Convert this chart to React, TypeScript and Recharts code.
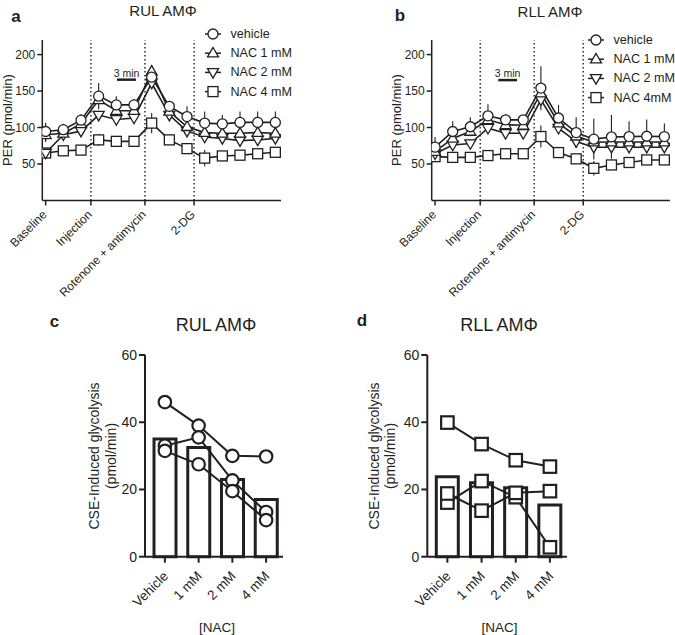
import React from 'react';
import { ComposedChart, Line, Bar, XAxis, YAxis, ReferenceLine, ErrorBar, Legend } from 'recharts';

const INK = '#231f20';
const FONT = '"Liberation Sans", Arial, Helvetica, sans-serif';

// ---------- Panels a & b : PER time course ----------
const measurement = [1, 2, 3, 4, 5, 6, 7, 8, 9, 10, 11, 12, 13, 14];
const eventTicks = [1, 3.56, 6.62, 9.4];
const eventLabels = ['Baseline', 'Injection', 'Rotenone + antimycin', '2-DG'];
const perTicks = [50, 100, 150, 200];
const namesA = ['vehicle', 'NAC 1 mM', 'NAC 2 mM', 'NAC 4 mM'];
const namesB = ['vehicle', 'NAC 1 mM', 'NAC 2 mM', 'NAC 4mM'];

const rulVehicle = [94.5, 97, 110, 143, 131, 131, 169, 129, 115, 106, 105, 107, 107, 107];
const rulNac1 = [90, 92, 105, 138, 123, 123, 177, 122, 101, 93, 92, 92, 93, 92];
const rulNac2 = [65, 90, 95, 117, 111, 113, 161, 117, 95, 87, 85, 82, 83, 85];
const rulNac4 = [65, 68, 69, 83, 81, 81, 106, 83, 71, 58, 61, 62, 64, 66];
const rulVehicleErr = [12, 8, 8, 18, 12, 8, 16, 6, 14, 16, 12, 15, 15, 15];
const rulNac1Err = [10, 5, 5, 6, 5, 5, 8, 5, 5, 5, 5, 5, 5, 5];
const rulNac2Err = [6, 6, 5, 6, 5, 5, 8, 5, 5, 5, 5, 5, 5, 5];
const rulNac4Err = [5, 3, 3, 8, 3, 3, 14, 4, 3, 11, 6, 5, 3, 3];

const rllVehicle = [73, 94.5, 101, 116, 110.5, 110.5, 154, 113, 93, 84, 87, 87.5, 88, 87.5];
const rllNac1 = [67, 85, 94.5, 110.5, 103.7, 103, 147, 106, 88, 80, 80, 80, 80, 80];
const rllNac2 = [64, 76, 78, 99, 92, 92, 138, 99, 80.7, 73, 73, 73, 73, 73];
const rllNac4 = [60, 59, 59, 61.5, 64, 64, 87.6, 65.6, 57, 44, 48.6, 52, 55.5, 55.5];
const rllVehicleErr = [14, 14, 13, 16, 8, 6, 30, 18, 21, 28, 30, 21, 23, 18];
const rllNac1Err = [12, 6, 6, 6, 5, 5, 10, 6, 5, 5, 5, 5, 5, 5];
const rllNac2Err = [6, 6, 6, 6, 5, 5, 8, 5, 5, 5, 5, 5, 5, 5];
const rllNac4Err = [6, 3, 3, 3, 3, 3, 15, 4, 3, 10, 6, 4, 3, 3];

// ---------- Panels c & d : CSE-induced glycolysis ----------
const doses = ['Vehicle', '1 mM', '2 mM', '4 mM'];
const glyTicks = [0, 20, 40, 60];
const rulMean = [35, 32.5, 23, 17];
const rulDonor1 = [46, 39, 30, 29.8];
const rulDonor2 = [33, 35.5, 22.7, 13.3];
const rulDonor3 = [31.5, 27.5, 19.5, 10.9];
const rllMean = [23.8, 22, 20.5, 15.4];
const rllDonor1 = [39.9, 33.5, 28.7, 26.8];
const rllDonor2 = [16.1, 22.5, 17.7, 2.8];
const rllDonor3 = [18.8, 13.7, 19, 19.5];

const KEYS = ['veh', 'n1', 'n2', 'n4'];
const SHAPES = ['circle', 'up', 'down', 'square'];

function buildTimeRows(vals: number[][], errs: number[][]) {
  return measurement.map((t, i) => {
    const row: any = { t };
    KEYS.forEach((k, j) => {
      row[k] = vals[j][i];
      row[k + 'Err'] = errs[j][i];
    });
    return row;
  });
}

function buildDoseRows(mean: number[], d1: number[], d2: number[], d3: number[]) {
  return doses.map((dose, i) => ({ dose, mean: mean[i], d1: d1[i], d2: d2[i], d3: d3[i] }));
}

const rulRows = buildTimeRows([rulVehicle, rulNac1, rulNac2, rulNac4], [rulVehicleErr, rulNac1Err, rulNac2Err, rulNac4Err]);
const rllRows = buildTimeRows([rllVehicle, rllNac1, rllNac2, rllNac4], [rllVehicleErr, rllNac1Err, rllNac2Err, rllNac4Err]);
const rulDoseRows = buildDoseRows(rulMean, rulDonor1, rulDonor2, rulDonor3);
const rllDoseRows = buildDoseRows(rllMean, rllDonor1, rllDonor2, rllDonor3);

function Marker({ shape, cx, cy, size, sw }: any) {
  if (cx == null || cy == null || isNaN(cx) || isNaN(cy)) return null;
  const h = size / 2;
  if (shape === 'circle') return <circle cx={cx} cy={cy} r={h} fill="#fff" stroke={INK} strokeWidth={sw} />;
  if (shape === 'square')
    return <rect x={cx - h} y={cy - h} width={size} height={size} fill="#fff" stroke={INK} strokeWidth={sw} />;
  if (shape === 'up')
    return (
      <polygon
        points={`${cx},${cy - h * 1.15} ${cx - h * 1.1},${cy + h * 0.75} ${cx + h * 1.1},${cy + h * 0.75}`}
        fill="#fff"
        stroke={INK}
        strokeWidth={sw}
      />
    );
  return (
    <polygon
      points={`${cx},${cy + h * 1.15} ${cx - h * 1.1},${cy - h * 0.75} ${cx + h * 1.1},${cy - h * 0.75}`}
      fill="#fff"
      stroke={INK}
      strokeWidth={sw}
    />
  );
}

function RotTick(props: any) {
  const { x, y, payload, fontSize, dx, dy, labels } = props;
  const text = labels ? labels[payload.index] : payload.value;
  return (
    <g transform={`translate(${x + dx},${y + dy})`}>
      <text
        x={0}
        y={0}
        textAnchor="end"
        transform="rotate(-45)"
        fontSize={fontSize}
        fill={INK}
        fontFamily={FONT}
        dominantBaseline="central"
      >
        {text}
      </text>
    </g>
  );
}

function LegendBox({ names }: { names: string[] }) {
  return (
    <svg width={140} height={80} style={{ overflow: 'visible', display: 'block' }}>
      {names.map((n, j) => (
        <g key={n} transform={`translate(0, ${9 + j * 19.2})`}>
          <line x1={2} x2={18} y1={0} y2={0} stroke={INK} strokeWidth={1.5} />
          <Marker shape={SHAPES[j]} cx={10} cy={0} size={10} sw={1.3} />
          <text x={27.5} y={0} dominantBaseline="central" fontSize={12.6} fill={INK} fontFamily={FONT}>
            {n}
          </text>
        </g>
      ))}
    </svg>
  );
}

function TimeCourse({ rows, names, width, ml, mr, legendLeft, legendTop, scale }: any) {
  return (
    <ComposedChart width={width} height={300} data={rows} margin={{ top: 40, right: mr, bottom: 39.6, left: ml }}>
      <XAxis
        dataKey="t"
        type="number"
        domain={[0.81, 14.32]}
        ticks={eventTicks}
        interval={0}
        height={60}
        tickSize={5}
        axisLine={{ stroke: INK, strokeWidth: 1.5 }}
        tickLine={{ stroke: INK, strokeWidth: 1.5 }}
        tick={(p: any) => <RotTick {...p} labels={eventLabels} fontSize={12} dx={-1} dy={5} />}
        allowDataOverflow
      />
      <YAxis
        type="number"
        domain={[0, 220]}
        ticks={perTicks}
        width={30}
        tickSize={5}
        axisLine={{ stroke: INK, strokeWidth: 1.5 }}
        tickLine={{ stroke: INK, strokeWidth: 1.5 }}
        tick={{ fill: INK, fontSize: 12, fontFamily: FONT }}
        allowDataOverflow
      />
      {eventTicks.slice(1).map((x) => (
        <ReferenceLine key={x} x={x} stroke={INK} strokeDasharray="1.3 2.7" strokeWidth={1.4} />
      ))}
      <ReferenceLine
        segment={[
          { x: scale[0], y: scale[2] },
          { x: scale[1], y: scale[2] },
        ]}
        stroke={INK}
        strokeWidth={2.5}
        label={{ value: '3 min', position: 'top', fontSize: 10.5, fill: INK, fontFamily: FONT, offset: 3 }}
      />
      {[3, 2, 1, 0].map((j) => (
        <Line
          key={KEYS[j]}
          dataKey={KEYS[j]}
          type="linear"
          stroke={INK}
          strokeWidth={1.6}
          isAnimationActive={false}
          dot={(p: any) => (
            <Marker key={`${KEYS[j]}-${p.index}`} shape={SHAPES[j]} cx={p.cx} cy={p.cy} size={10} sw={1.3} />
          )}
          activeDot={false}
        >
          <ErrorBar dataKey={KEYS[j] + 'Err'} width={0} stroke={INK} strokeWidth={1.1} direction="y" />
        </Line>
      ))}
      <Legend
        layout="vertical"
        align="center"
        verticalAlign="middle"
        wrapperStyle={{ left: legendLeft, top: legendTop, width: 140, height: 80 }}
        content={() => <LegendBox names={names} />}
      />
    </ComposedChart>
  );
}

function DosePanel({ rows, shape, width, ml, mr }: any) {
  return (
    <ComposedChart width={width} height={335} data={rows} margin={{ top: 55, right: mr, bottom: 18.3, left: ml }}>
      <XAxis
        dataKey="dose"
        type="category"
        padding={{ left: 3, right: 0 }}
        height={60}
        tickSize={6}
        interval={0}
        axisLine={{ stroke: INK, strokeWidth: 2 }}
        tickLine={{ stroke: INK, strokeWidth: 2 }}
        tick={(p: any) => <RotTick {...p} fontSize={13.5} dx={1} dy={9} />}
      />
      <YAxis
        type="number"
        domain={[0, 60]}
        ticks={glyTicks}
        width={40}
        tickSize={6}
        axisLine={{ stroke: INK, strokeWidth: 2 }}
        tickLine={{ stroke: INK, strokeWidth: 2 }}
        tick={{ fill: INK, fontSize: 14, fontFamily: FONT }}
      />
      <Bar dataKey="mean" barSize={22} fill="#fff" stroke={INK} strokeWidth={3} isAnimationActive={false} />
      {['d1', 'd2', 'd3'].map((k) => (
        <Line
          key={k}
          dataKey={k}
          type="linear"
          stroke={INK}
          strokeWidth={2}
          isAnimationActive={false}
          activeDot={false}
          dot={(p: any) => <Marker key={`${k}-${p.index}`} shape={shape} cx={p.cx} cy={p.cy} size={12.5} sw={2.2} />}
        />
      ))}
    </ComposedChart>
  );
}

const abs = (left: number, top: number, extra: any = {}) => ({
  position: 'absolute' as const,
  left,
  top,
  transform: 'translate(-50%, -50%)',
  whiteSpace: 'nowrap' as const,
  color: INK,
  lineHeight: 1,
  fontFamily: FONT,
  ...extra,
});

const rot = (left: number, top: number, size: number) =>
  abs(left, top, { transform: 'translate(-50%, -50%) rotate(-90deg)', fontSize: size });

export default function App() {
  return (
    <div style={{ position: 'absolute', left: 0, top: 0, width: 675, height: 635, background: '#fff', fontFamily: FONT, overflow: 'hidden' }}>
      <div style={{ position: 'absolute', left: 0, top: 0 }}>
        <TimeCourse rows={rulRows} names={namesA} width={340} ml={12.3} mr={59} legendLeft={203} legendTop={25} scale={[5.04, 6.11, 165.6]} />
      </div>
      <div style={{ position: 'absolute', left: 340, top: 0 }}>
        <TimeCourse rows={rllRows} names={namesB} width={335} ml={61.7} mr={5} legendLeft={246} legendTop={31} scale={[4.58, 5.65, 165]} />
      </div>
      <div style={{ position: 'absolute', left: 0, top: 300 }}>
        <DosePanel rows={rulDoseRows} shape="circle" width={340} ml={105} mr={57} />
      </div>
      <div style={{ position: 'absolute', left: 340, top: 300 }}>
        <DosePanel rows={rllDoseRows} shape="square" width={335} ml={47.3} mr={108} />
      </div>

      {/* titles and panel letters */}
      <div style={abs(163, 10, { fontSize: 15 })}>RUL AMΦ</div>
      <div style={abs(550, 11, { fontSize: 15 })}>RLL AMΦ</div>
      <div style={abs(216, 325, { fontSize: 18 })}>RUL AMΦ</div>
      <div style={abs(499, 325, { fontSize: 18 })}>RLL AMΦ</div>
      <div style={abs(16, 16, { fontSize: 17, fontWeight: 'bold' })}>a</div>
      <div style={abs(400, 15, { fontSize: 17, fontWeight: 'bold' })}>b</div>
      <div style={abs(54.5, 321, { fontSize: 17, fontWeight: 'bold' })}>c</div>
      <div style={abs(362, 320, { fontSize: 17, fontWeight: 'bold' })}>d</div>

      {/* axis titles */}
      <div style={rot(7, 120, 13)}>PER (pmol/min)</div>
      <div style={rot(396, 120, 13)}>PER (pmol/min)</div>
      <div style={rot(94, 456, 14)}>CSE-Induced glycolysis</div>
      <div style={rot(111, 456, 14)}>(pmol/min)</div>
      <div style={rot(374, 456, 14)}>CSE-Induced glycolysis</div>
      <div style={rot(390, 456, 14)}>(pmol/min)</div>
      <div style={abs(217, 628, { fontSize: 13.5 })}>[NAC]</div>
      <div style={abs(499.5, 628, { fontSize: 13.5 })}>[NAC]</div>
    </div>
  );
}
